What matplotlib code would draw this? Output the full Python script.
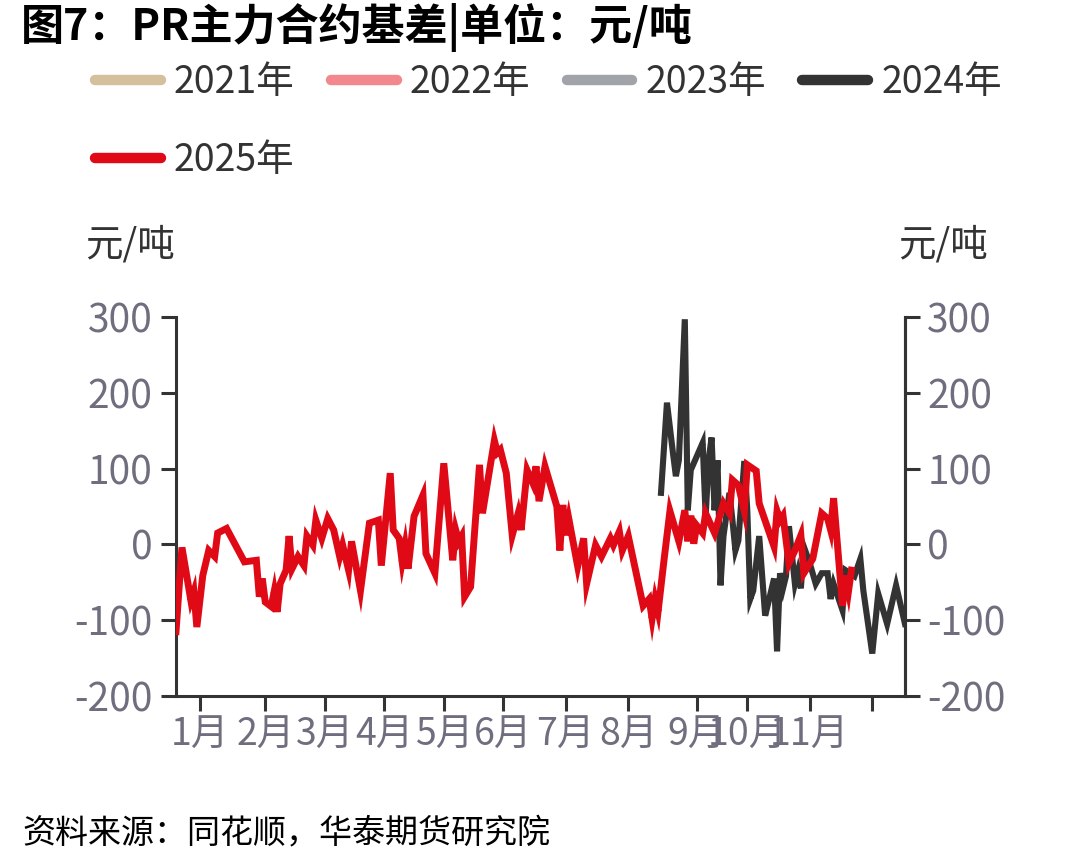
import matplotlib
matplotlib.use("Agg")
import matplotlib.pyplot as plt
from matplotlib.lines import Line2D

plt.rcParams['font.family'] = ['Noto Sans CJK SC', 'DejaVu Sans']
plt.rcParams['axes.unicode_minus'] = False

# ---------------- data (trading-day index within the year, basis 元/吨) ----------------
x_2025 = [0, 2, 5, 6, 7, 9, 11, 13, 14, 17, 23, 27, 28, 29, 30, 32, 33, 34, 35, 37, 38, 39,
          41, 43, 44, 46, 47, 49, 51, 53, 55, 56, 58, 59, 62, 65, 68, 69, 72, 73, 75, 76, 77,
          78, 80, 83, 84, 87, 90, 93, 94, 95, 96, 97, 99, 102, 103, 107, 108, 109, 111, 113,
          115, 116, 118, 120, 121, 122, 124, 128, 129, 130, 131, 132, 135, 137, 138, 141, 143,
          146, 147, 149, 150, 152, 157, 159, 160, 161, 162, 164, 166, 169, 171, 172, 173, 174,
          175, 177, 178, 181, 184, 186, 187, 189, 191, 192, 195, 196, 201, 202, 203, 204, 206,
          208, 210, 211, 214, 217, 219, 220, 221, 224, 225, 226, 227]
y_2025 = [-115, -4, -74, -62, -109, -41, -8, -16, 15, 21, -23, -21, -69, -45, -76, -82, -62,
          -89, -52, -34, 11, -32, -16, -28, 11, -1, 32, 8, 34, 19, -16, -1, -34, 4, -61, 28, 32,
          -28, 94, 19, 8, -23, -1, -32, 37, 65, -12, -38, 107, -21, 19, 4, 11, -69, -56, 105, 41,
          137, 121, 125, 94, 12, 41, 19, 98, 80, 103, 57, 103, 50, -8, 52, 12, 34, -29, 8, -52,
          -1, -16, 8, -1, 17, -8, 11, -81, -72, -98, -72, -89, -21, 44, 4, 45, 4, 38, 1, 25, 15,
          41, 15, 54, 41, 85, 78, 44, 105, 97, 54, -3, 44, 32, 38, -25, -8, 12, -38, -19, 41, 34,
          19, 61, -81, -41, -62, -34]

x_2024 = [163, 165, 167, 168, 169, 171, 172, 173, 176, 177, 178, 179, 180, 181, 182, 183, 184,
          186, 187, 188, 189, 191, 192, 193, 194, 196, 198, 199, 201, 202, 203, 204, 205, 206,
          208, 209, 210, 211, 213, 215, 217, 219, 220, 221, 224, 225, 228, 230, 231, 234, 236,
          239, 242, 245]
y_2024 = [68, 187, 121, 90, 111, 297, 45, 98, 125, 134, 37, 111, 141, 45, 111, -54, 11, 68, 32,
          -8, 5, 110, 45, -72, -61, 11, -94, -78, -45, -141, -38, -58, -42, 24, -52, -36, -58,
          -3, -25, -52, -38, -38, -72, -52, -87, -34, -42, -19, -61, -144, -65, -105, -54, -105]

series_names = ['2021年', '2022年', '2023年', '2024年', '2025年']
series_colors = ['#d5c09c', '#f2878d', '#a0a3a7', '#333333', '#e00a16']

month_ticks = [8, 30, 50, 70, 90, 110, 131, 152, 175, 192, 213, 234]
month_labels = ['1月', '2月', '3月', '4月', '5月', '6月', '7月', '8月', '9月', '10月', '11月', '']

y_ticks = [-200, -100, 0, 100, 200, 300]

# ---------------- figure ----------------
W, H = 1078, 866
fig = plt.figure(figsize=(W / 100, H / 100), dpi=100)
ax = fig.add_axes([176 / W, 1 - 696 / H, (905 - 176) / W, (696 - 317) / H])

ax.plot(x_2024, y_2024, color=series_colors[3], lw=4.4, solid_joinstyle='miter', zorder=3)
ax.plot(x_2025, y_2025, color=series_colors[4], lw=5.0, solid_joinstyle='miter', zorder=4)

ax.set_xlim(0, 245)
ax.set_ylim(-200, 300)

spine_c = '#333333'
tick_c = '#6e6e7e'
ax.spines['top'].set_visible(False)
for s in ['left', 'bottom', 'right']:
    ax.spines[s].set_color(spine_c)
    ax.spines[s].set_linewidth(2.2)

ax.set_yticks(y_ticks)
ax.set_xticks(month_ticks)
ax.set_xticklabels(month_labels)
ax.tick_params(axis='y', direction='out', length=11, width=2.2, color=spine_c,
               labelsize=28, labelcolor=tick_c, pad=6)
ax.tick_params(axis='x', direction='out', length=11, width=2.2, color=spine_c,
               labelsize=27, labelcolor=tick_c, pad=3)

ax2 = ax.twinx()
ax2.set_ylim(-200, 300)
ax2.set_yticks(y_ticks)
for s in ['top', 'left', 'bottom']:
    ax2.spines[s].set_visible(False)
ax2.spines['right'].set_color(spine_c)
ax2.spines['right'].set_linewidth(2.2)
ax2.tick_params(axis='y', direction='out', length=11, width=2.2, color=spine_c,
                labelsize=28, labelcolor=tick_c, pad=5)

# unit labels
fig.text(85 / W, 1 - 245 / H, '元/吨', fontsize=27, color='#333333', va='center', ha='left')
fig.text(898 / W, 1 - 245 / H, '元/吨', fontsize=27, color='#333333', va='center', ha='left')

# title
fig.text(21 / W, 1 - 28 / H, '图7：PR主力合约基差|单位：元/吨', fontsize=31, fontweight='bold',
         color='black', va='center', ha='left')

# legend
handles = [Line2D([0], [0], color=c, lw=7.5, solid_capstyle='round') for c in series_colors]
order = [0, 4, 1, 2, 3]
leg = fig.legend([handles[i] for i in order], [series_names[i] for i in order],
                 loc='upper left', bbox_to_anchor=(95 / W, 1 - 63 / H), ncol=4,
                 frameon=False, fontsize=27, handlelength=1.75, handletextpad=0.35,
                 columnspacing=0.97, labelspacing=1.05, borderpad=0, borderaxespad=0)
for t in leg.get_texts():
    t.set_color('#333333')

# source
fig.text(22 / W, 1 - 833 / H, '资料来源：同花顺，华泰期货研究院', fontsize=23.8, style='italic',
         color='black', va='center', ha='left')

fig.savefig('out.png', dpi=100)
